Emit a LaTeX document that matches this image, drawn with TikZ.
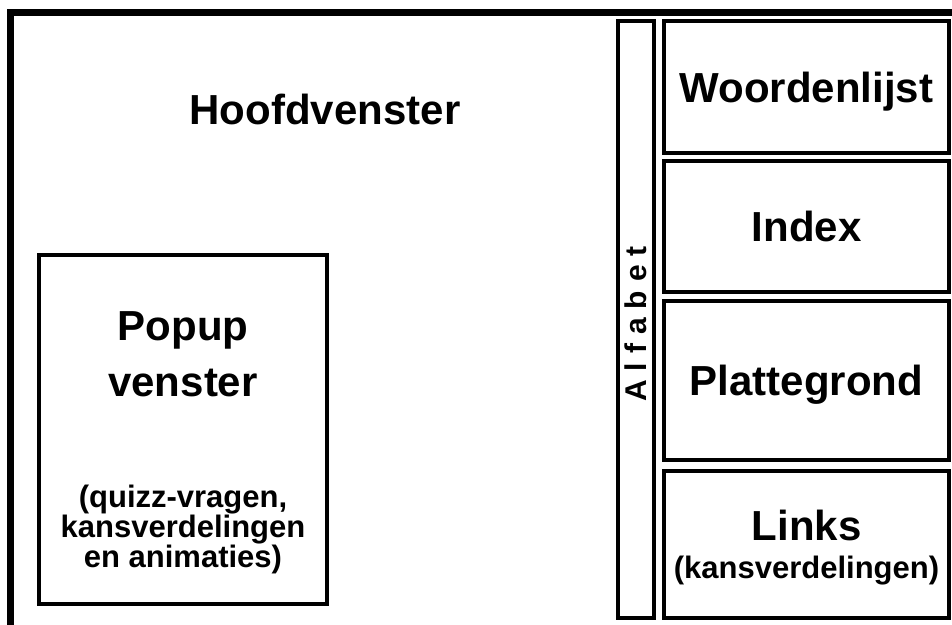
\documentclass[tikz,border=0pt]{standalone}
\usepackage{fontspec}
\setmainfont{Liberation Sans}
\newfontfamily\spreid{Liberation Sans}[LetterSpace=30]
\usetikzlibrary{positioning}

\tikzset{
  vak/.style={draw, line width=4pt, minimum width=285pt},
  titel/.style={font=\bfseries\fontsize{42}{56}\selectfont, inner sep=0pt},
  klein/.style={font=\bfseries\fontsize{31}{30}\selectfont, inner sep=0pt},
}

\begin{document}
\begin{tikzpicture}[x=1pt, y=-1pt]
    \useasboundingbox (0,0) rectangle (952,624);
    \clip (0,0) rectangle (952,624);

    % hoofdvenster (loopt door buiten de rand)
    \node[draw, line width=7pt, outer sep=0pt, minimum width=990pt, minimum height=650pt, anchor=north west] (hoofd) at (10.5,12.5) {};
    \node[titel, anchor=base] (thoofd) at (325,124) {Hoofdvenster};

    % popup venster
    \node[draw, line width=4pt, minimum width=288.5pt, minimum height=349pt] (popup) at (183,429.5) {};
    \node[titel, align=center] (tpopup) at (183,354) {Popup\\venster};
    \node[klein, align=center] (tinhoud) at (183,529) {(quizz-vragen,\\kansverdelingen\\en animaties)};

    % alfabet strook
    \node[draw, line width=4pt, minimum width=36.5pt, minimum height=597pt] (alfabet) at (635.75,319.5) {};
    \node[rotate=90, inner sep=0pt, font=\spreid\bfseries\fontsize{30}{30}\selectfont] (talfabet) at (636,324) {Alfabet};

    % rechterkolom
    \node[vak, minimum height=132pt] (woord) at (806.5,87) {};
    \node[vak, minimum height=131pt, below=4pt of woord] (index) {};
    \node[vak, minimum height=159pt, below=4.5pt of index] (platte) {};
    \node[vak, minimum height=147.5pt, below=7pt of platte] (links) {};

    \node[titel, text height=30pt, text depth=0pt] (twoord) at (woord.center) {Woordenlijst};
    \node[titel, text height=30pt, text depth=0pt] (tindex) at (index.center) {Index};
    \node[titel, text height=30pt, text depth=0pt] (tplatte) at (platte.center) {Plattegrond};
    \node[titel, anchor=base] (tlinks) at (806.5,540) {Links};
    \node[klein, anchor=base] (tkans) at (806.5,578) {(kansverdelingen)};
\end{tikzpicture}
\end{document}
